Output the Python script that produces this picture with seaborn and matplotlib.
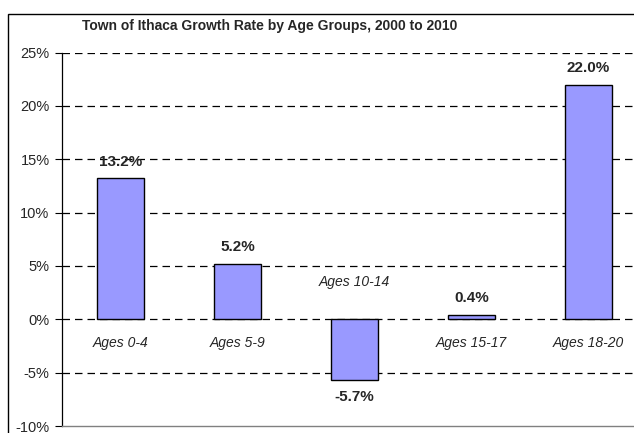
import matplotlib
matplotlib.use("Agg")
import matplotlib.pyplot as plt
import seaborn as sns
import pandas as pd
from matplotlib.patches import Rectangle

groups = ["Ages 0-4", "Ages 5-9", "Ages 10-14", "Ages 15-17", "Ages 18-20"]
growth = [13.2, 5.2, -5.7, 0.4, 22.0]
yticks = [-10, -5, 0, 5, 10, 15, 20, 25]

df = pd.DataFrame({"group": groups, "growth": growth})

sns.set_style("white")
plt.rcParams["font.family"] = ["Liberation Sans", "DejaVu Sans"]

fig = plt.figure(figsize=(6.34, 4.33), dpi=100)
ax = fig.add_axes([62 / 634, 1 - 426 / 433, 585 / 634, 373.5 / 433])

sns.barplot(data=df, x="group", y="growth", color="#9999FF", edgecolor="black",
            linewidth=1, width=0.4, saturation=1, ax=ax)

ax.set_ylim(-10, 25)
ax.set_xlim(-0.5, 4.5)
ax.set_yticks(yticks)
ax.set_yticklabels([f"{t}%" for t in yticks], fontsize=10.5)
for t in yticks:
    if t != -10:
        ax.axhline(t, color="black", lw=0.9, ls=(0, (6, 4)), zorder=0)
ax.set_xticks([])
ax.set_xlabel("")
ax.set_ylabel("")
ax.tick_params(axis="y", length=5, width=0.8, color="black", direction="out", pad=4, left=True)
for s in ["top", "right"]:
    ax.spines[s].set_visible(False)
ax.spines["left"].set_color("black")
ax.spines["left"].set_linewidth(0.9)
ax.spines["bottom"].set_color("#808080")
ax.spines["bottom"].set_linewidth(1)

for i, (g, v) in enumerate(zip(groups, growth)):
    if v >= 0:
        ax.text(i, v + 1.55, f"{v:.1f}%", ha="center", va="center",
                fontsize=11, fontweight="bold")
        ax.text(i, -2.25, g, ha="center", va="center", fontsize=10, style="italic")
    else:
        ax.text(i, v - 1.6, f"{v:.1f}%", ha="center", va="center",
                fontsize=11, fontweight="bold")
        ax.text(i, 3.5, g, ha="center", va="center", fontsize=10, style="italic")

fig.text(270 / 634, 1 - 26 / 433, "Town of Ithaca Growth Rate by Age Groups, 2000 to 2010",
         ha="center", va="center", fontsize=10, fontweight="bold")

fig.patches.append(Rectangle((8 / 634, -0.1), 1.1, 1.1 - 14 / 433, transform=fig.transFigure,
                             fill=False, edgecolor="black", lw=1))

fig.savefig("out.png", dpi=100)
